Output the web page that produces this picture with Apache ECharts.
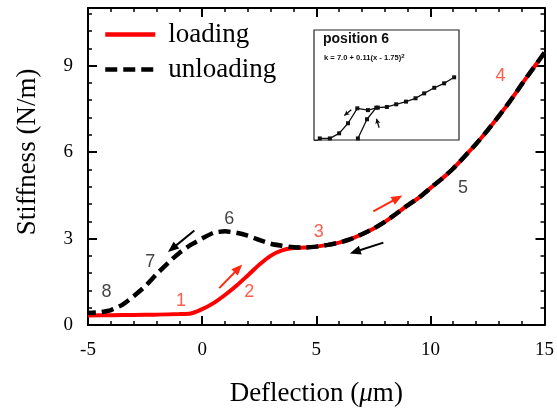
<!DOCTYPE html>
<html>
<head>
<meta charset="utf-8">
<script src="https://cdn.jsdelivr.net/npm/echarts@6/dist/echarts.min.js"></script>
<style>
  html, body { margin: 0; padding: 0; background: #fff; }
  #chart { width: 557px; height: 412px; }
</style>
</head>
<body>
<div id="chart"></div>
<script>
// main curves
var loadingX = [-5, -4, -3, -2, -1, -0.5, 0, 0.5, 1, 1.5, 2, 2.5, 3, 3.5, 4, 4.5, 5, 5.5, 6, 6.5, 7, 7.5, 8, 8.5, 9, 9.5, 10, 10.5, 11, 11.5, 12, 12.5, 13, 13.5, 14, 14.5, 15];
var loadingY = [0.33, 0.34, 0.35, 0.36, 0.38, 0.40, 0.55, 0.76, 1.04, 1.36, 1.72, 2.09, 2.40, 2.59, 2.67, 2.69, 2.72, 2.78, 2.86, 2.98, 3.15, 3.34, 3.58, 3.86, 4.15, 4.42, 4.75, 5.07, 5.43, 5.85, 6.28, 6.75, 7.25, 7.78, 8.35, 8.9, 9.45];

var unloadingX = [15, 14.5, 14, 13.5, 13, 12.5, 12, 11.5, 11, 10.5, 10, 9.5, 9, 8.5, 8, 7.5, 7, 6.5, 6, 5.5, 5, 4.5, 4, 3.5, 3, 2.5, 2, 1.5, 1, 0.5, 0, -0.5, -1, -1.5, -2, -2.5, -3, -3.5, -4, -4.5, -5];
var unloadingY = [9.45, 8.9, 8.35, 7.78, 7.25, 6.75, 6.28, 5.85, 5.43, 5.07, 4.75, 4.42, 4.15, 3.86, 3.58, 3.34, 3.15, 2.98, 2.86, 2.78, 2.72, 2.69, 2.70, 2.75, 2.82, 2.95, 3.10, 3.20, 3.25, 3.20, 3.00, 2.78, 2.50, 2.15, 1.76, 1.34, 1.00, 0.70, 0.52, 0.44, 0.42];

// numbered stage labels [x, y, text]
var redLabels = [[-0.92, 0.82, '1'], [2.06, 1.14, '2'], [5.11, 3.22, '3'], [13.07, 8.64, '4']];
var blackLabels = [[11.43, 4.74, '5'], [1.19, 3.68, '6'], [-2.27, 2.17, '7'], [-4.19, 1.14, '8']];

// direction arrows [x1, y1, x2, y2]
var redArrows = [[0.75, 1.28, 1.59, 1.96], [7.5, 3.94, 8.56, 4.40]];
var blackArrows = [[-0.34, 3.28, -1.31, 2.65], [7.94, 2.86, 6.70, 2.54]];

var xTicks = [-5, 0, 5, 10, 15];
var yTicks = [0, 3, 6, 9];

// inset (position 6)
var insetUnloadX = [0.05, 0.57, 1.05, 1.51, 1.99, 2.54, 3.05, 3.52, 4.0, 4.51, 5.0, 5.45, 5.97, 6.48, 7.0];
var insetUnloadY = [0.07, 0.07, 0.30, 0.75, 1.42, 1.34, 1.45, 1.48, 1.60, 1.72, 1.87, 2.09, 2.34, 2.54, 2.81];
var insetLoadX = [2.02, 2.49, 2.97];
var insetLoadY = [0.07, 0.93, 1.45];

function pairs(xs, ys) {
    return xs.map(function (x, i) { return [x, ys[i]]; });
}
function arrowLines(list) {
    return list.map(function (a) {
        return [{ coord: [a[0], a[1]] }, { coord: [a[2], a[3]] }];
    });
}

var chart = echarts.init(document.getElementById('chart'), null, { renderer: 'canvas' });

var serif = 'Liberation Serif';
var axisLine = { onZero: false, lineStyle: { color: '#000', width: 2 } };

function majorY(pos, labels) {
    return {
        type: 'value', gridIndex: 0, position: pos, min: 0, max: 11,
        axisLine: axisLine,
        axisTick: { inside: true, length: 9, customValues: yTicks, lineStyle: { color: '#000', width: 2 } },
        axisLabel: { show: labels, customValues: yTicks, margin: 15, color: '#000', fontFamily: serif, fontSize: 19 },
        splitLine: { show: false }
    };
}
function minorY(pos) {
    return {
        type: 'value', gridIndex: 0, position: pos, min: 0, max: 11, interval: 0.6,
        axisLine: { show: false, onZero: false },
        axisTick: { inside: true, length: 4, lineStyle: { color: '#000', width: 1.5 } },
        axisLabel: { show: false },
        splitLine: { show: false }
    };
}
function mainX(pos, labels) {
    return {
        type: 'value', gridIndex: 0, position: pos, min: -5, max: 15, interval: 5,
        axisLine: axisLine,
        axisTick: { inside: true, length: 9, lineStyle: { color: '#000', width: 2 } },
        minorTick: { show: true, splitNumber: 5, length: 4, lineStyle: { color: '#000', width: 1.5 } },
        axisLabel: { show: labels, margin: 16, color: '#000', fontFamily: serif, fontSize: 19 },
        splitLine: { show: false },
        name: labels ? 'Deflection ({i|μ}m)' : '',
        nameLocation: 'middle',
        nameGap: 55,
        nameTextStyle: {
            color: '#000', fontFamily: serif, fontSize: 27,
            rich: { i: { fontFamily: serif, fontStyle: 'italic', fontSize: 27, color: '#000' } }
        }
    };
}

var option = {
    animation: false,
    backgroundColor: '#fff',
    grid: [
        { left: 88, right: 10, top: 8, bottom: 82 },
        { left: 314, top: 30, width: 145, height: 110, show: true, backgroundColor: '#fff', borderColor: '#222', borderWidth: 1.2, z: 5 }
    ],
    legend: {
        data: ['loading', 'unloading'],
        orient: 'vertical',
        left: 103,
        top: 21,
        padding: 0,
        itemWidth: 50,
        itemHeight: 14,
        itemGap: 8,
        itemStyle: { opacity: 0 },
        lineStyle: { width: 4.5 },
        textStyle: { fontFamily: serif, fontSize: 27, color: '#000', padding: [0, 0, 0, 8] },
        inactiveColor: '#000'
    },
    xAxis: [
        mainX('bottom', true),
        mainX('top', false),
        {
            type: 'value', gridIndex: 1, min: -0.25, max: 7.25,
            axisLine: { show: false, onZero: false },
            axisTick: { inside: true, length: 4, customValues: [0, 1, 2, 3, 4, 5, 6, 7], lineStyle: { color: '#222' } },
            axisLabel: { show: false },
            splitLine: { show: false }
        }
    ],
    yAxis: [
        majorY('left', true),
        minorY('left'),
        majorY('right', false),
        minorY('right'),
        {
            type: 'value', gridIndex: 1, min: 0, max: 4.93, interval: 1,
            axisLine: { show: false, onZero: false },
            axisTick: { inside: true, length: 4, lineStyle: { color: '#222' } },
            axisLabel: { show: false },
            splitLine: { show: false }
        }
    ],
    graphic: [
        {
            type: 'text', x: 28, y: 152, rotation: Math.PI / 2,
            style: { text: 'Stiffness (N/m)', font: '27px "Liberation Serif"', fill: '#000', align: 'center', verticalAlign: 'middle' }
        },
        {
            type: 'text', left: 323, top: 32, z: 20,
            style: { text: 'position 6', font: 'bold 14px "Liberation Sans"', fill: '#111' }
        },
        {
            type: 'text', left: 324, top: 53, z: 20,
            style: {
                text: 'k = 7.0 + 0.11(x - 1.75){s|2}', font: 'bold 7.6px "Liberation Sans"', fill: '#111',
                rich: { s: { font: 'bold 6px "Liberation Sans"', fill: '#111', verticalAlign: 'top', padding: [0, 0, 4, 0] } }
            }
        }
    ],
    series: [
        {
            name: 'loading', type: 'line', xAxisIndex: 0, yAxisIndex: 0,
            data: pairs(loadingX, loadingY), smooth: 0.3, symbol: 'none',
            lineStyle: { color: '#ff0000', width: 4 },
            itemStyle: { color: '#ff0000' },
            z: 2,
            markLine: {
                silent: true, symbol: ['none', 'triangle'], symbolSize: [9, 11],
                label: { show: false },
                lineStyle: { color: '#ff2a10', width: 2, type: 'solid' },
                data: arrowLines(redArrows)
            }
        },
        {
            name: 'unloading', type: 'line', xAxisIndex: 0, yAxisIndex: 0,
            data: pairs(unloadingX, unloadingY), smooth: 0.2, symbol: 'none',
            lineStyle: { color: '#000', width: 4.5, type: [12, 6] },
            itemStyle: { color: '#000' },
            z: 3,
            markLine: {
                silent: true, symbol: ['none', 'triangle'], symbolSize: [9, 11],
                label: { show: false },
                lineStyle: { color: '#000', width: 2, type: 'solid' },
                data: arrowLines(blackArrows)
            }
        },
        {
            name: 'redLabels', type: 'scatter', xAxisIndex: 0, yAxisIndex: 0,
            data: redLabels, symbolSize: 1, itemStyle: { color: 'rgba(0,0,0,0)' },
            label: { show: true, position: 'inside', formatter: function (p) { return p.value[2]; },
                color: '#ff3322', fontFamily: 'Liberation Sans', fontSize: 18 },
            z: 4
        },
        {
            name: 'blackLabels', type: 'scatter', xAxisIndex: 0, yAxisIndex: 0,
            data: blackLabels, symbolSize: 1, itemStyle: { color: 'rgba(0,0,0,0)' },
            label: { show: true, position: 'inside', formatter: function (p) { return p.value[2]; },
                color: '#111', fontFamily: 'Liberation Sans', fontSize: 18 },
            z: 4
        },
        {
            name: 'insetUnload', type: 'line', xAxisIndex: 2, yAxisIndex: 4,
            data: pairs(insetUnloadX, insetUnloadY), symbol: 'rect', symbolSize: 4,
            lineStyle: { color: '#111', width: 1.3 }, itemStyle: { color: '#111' },
            z: 10,
            markLine: {
                silent: true, symbol: ['none', 'arrow'], symbolSize: [4, 5],
                label: { show: false },
                lineStyle: { color: '#111', width: 1.3, type: 'solid' },
                data: [
                    [{ coord: [1.68, 1.36] }, { coord: [1.32, 1.10] }],
                    [{ coord: [3.12, 0.55] }, { coord: [2.98, 0.95] }]
                ]
            }
        },
        {
            name: 'insetLoad', type: 'line', xAxisIndex: 2, yAxisIndex: 4,
            data: pairs(insetLoadX, insetLoadY), symbol: 'rect', symbolSize: 4,
            lineStyle: { color: '#111', width: 1.3 }, itemStyle: { color: '#111' },
            z: 10
        }
    ]
};

chart.setOption(option);
</script>
</body>
</html>
